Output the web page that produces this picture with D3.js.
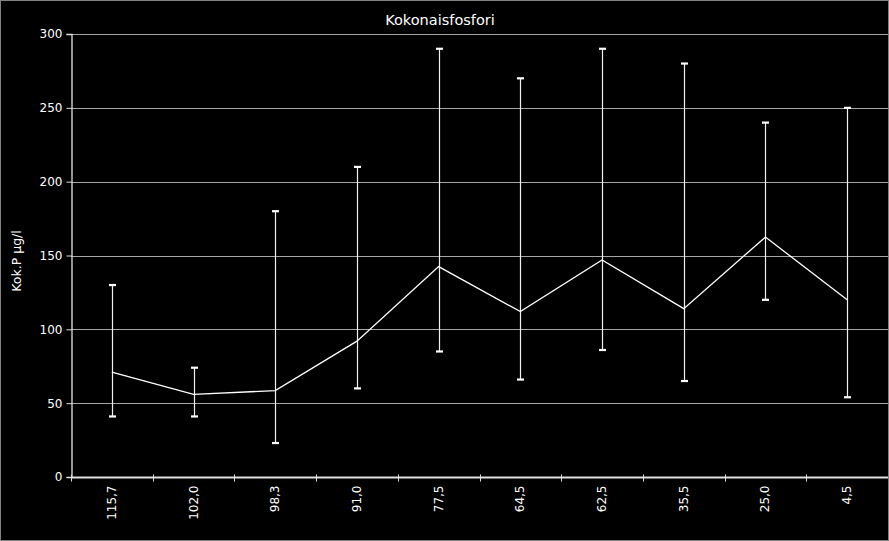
<!DOCTYPE html>
<html><head><meta charset="utf-8">
<script src="https://cdn.jsdelivr.net/npm/d3@7"></script>
<style>
html,body{margin:0;padding:0;background:#000;}
svg{display:block;}
text{font-family:"DejaVu Sans",Verdana,sans-serif;fill:#fff;}
</style></head><body>
<script>
const categories = ["115,7","102,0","98,3","91,0","77,5","64,5","62,5","35,5","25,0","4,5"];
const values = [71, 56, 58.5, 92, 142.5, 112, 147, 114, 162.5, 120];
const upper = [130, 74, 180, 210, 290, 270, 290, 280, 240, 250];
const lower = [41, 41, 23, 60, 85, 66, 86, 65, 120, 54];
const yTicks = [0, 50, 100, 150, 200, 250, 300];
const title = "Kokonaisfosfori";
const yLabel = "Kok.P µg/l";

const W = 889, H = 541;
const m = {left: 71, right: 1, top: 34, bottom: 64};
const svg = d3.select("body").append("svg").attr("width", W).attr("height", H);
svg.append("rect").attr("x",0.5).attr("y",0.5).attr("width",W-1).attr("height",H-1)
  .attr("fill","#000").attr("stroke","#808080");

const x = d3.scaleBand().domain(categories).range([m.left, W - m.right]).padding(0);
const y = d3.scaleLinear().domain([0, 300]).range([H - m.bottom, m.top]);
const cx = c => x(c) + x.bandwidth()/2;

// gridlines
svg.append("g").selectAll("line").data(yTicks.filter(d=>d>0)).join("line")
  .attr("x1", m.left).attr("x2", W - m.right)
  .attr("y1", d => Math.round(y(d))+0.5).attr("y2", d => Math.round(y(d))+0.5)
  .attr("stroke", "#a6a6a6").attr("stroke-width", 1);

// y axis
const yAxis = svg.append("g").attr("transform", `translate(${m.left+0.5},0)`)
  .call(d3.axisLeft(y).tickValues(yTicks).tickSize(5).tickPadding(4));
yAxis.select(".domain").attr("stroke","#e0e0e0").attr("stroke-width",1.3);
yAxis.selectAll(".tick line").attr("stroke","#e0e0e0");
yAxis.selectAll("text").attr("font-size", 12).style("fill","#fff").attr("font-family","DejaVu Sans, Verdana, sans-serif");

// x axis
const xAxisY = Math.round(y(0)) + 0.5;
const xg = svg.append("g").attr("transform", `translate(0,${xAxisY})`);
xg.append("line").attr("x1", m.left).attr("x2", W - m.right).attr("stroke","#e0e0e0").attr("stroke-width",2);
const bounds = categories.map(c => x(c)).concat([W - m.right]);
xg.selectAll("line.tk").data(bounds.slice(0, -1)).join("line").attr("class","tk")
  .attr("x1", d => Math.round(d)+0.5).attr("x2", d => Math.round(d)+0.5)
  .attr("y1", -3).attr("y2", 4).attr("stroke","#e0e0e0");
xg.selectAll("text").data(categories).join("text")
  .attr("transform", c => `translate(${cx(c)+4},${8}) rotate(-90)`)
  .attr("text-anchor","end").attr("font-size", 12).text(c => c);

// error bars
const eb = svg.append("g");
categories.forEach((c,i) => {
  const px = Math.round(cx(c)) + 0.5;
  eb.append("line").attr("x1", px).attr("x2", px)
    .attr("y1", y(upper[i])).attr("y2", y(lower[i])).attr("stroke","#f0f0f0").attr("stroke-width",1.2);
  [upper[i], lower[i]].forEach(v => {
    eb.append("line").attr("x1", px-3.5).attr("x2", px+3.5)
      .attr("y1", y(v)).attr("y2", y(v)).attr("stroke","#fff").attr("stroke-width",2.2);
  });
});

// line
const line = d3.line().x((d,i) => cx(categories[i])).y(d => y(d));
svg.append("path").datum(values).attr("d", line).attr("fill","none")
  .attr("stroke","#fff").attr("stroke-width",1.3);

// title
svg.append("text").attr("x", 440).attr("y", 25).attr("text-anchor","middle")
  .attr("font-size", 14.5).text(title);
// y label
svg.append("text").attr("transform", `translate(21,${261}) rotate(-90)`)
  .attr("text-anchor","middle").attr("font-size", 12.5).text(yLabel);
</script>
</body></html>
